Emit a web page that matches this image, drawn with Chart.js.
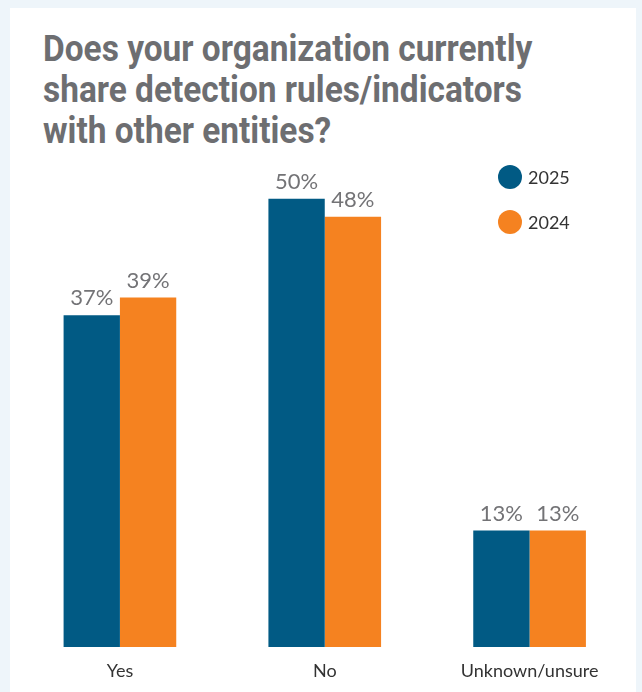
<!DOCTYPE html>
<html><head><meta charset="utf-8">
<script src="https://cdn.jsdelivr.net/npm/chart.js@4"></script>
<style>
html,body{margin:0;padding:0;width:642px;height:692px;overflow:hidden;background:#eef5fa;}
#card{position:absolute;left:10px;top:8px;width:626px;height:700px;background:#fff;}
#title{position:absolute;left:43px;top:28px;margin:0;font-family:Roboto,"DejaVu Sans",sans-serif;font-weight:bold;font-size:37px;line-height:41px;color:#6d6e71;white-space:nowrap;transform-origin:0 0;}
#wrap{position:absolute;left:0;top:0;width:642px;height:692px;}
</style></head><body>
<div id="card"></div>
<div id="title"><span>Does your organization currently</span><br><span id="l2">share detection rules/indicators</span><br><span>with other entities?</span></div>
<div id="wrap"><canvas id="c" width="642" height="692"></canvas></div>
<script>
const categories = ["Yes", "No", "Unknown/unsure"];
const seriesNames = ["2025", "2024"];
const values2025 = [37, 50, 13];
const values2024 = [39, 48, 13];
const colors = ["#015a84", "#f58220"];

// condense title to the reference width
const l2 = document.getElementById('l2');
const w = l2.getBoundingClientRect().width;
document.getElementById('title').style.transform = 'scaleX(' + (479 / w) + ')';

const labelPlugin = {
  id: 'labels',
  afterDatasetsDraw(chart) {
    const ctx = chart.ctx;
    ctx.save();
    ctx.font = '22px Lato, "Open Sans", sans-serif';
    ctx.fillStyle = '#737376';
    ctx.textAlign = 'center';
    ctx.textBaseline = 'bottom';
    chart.data.datasets.forEach((ds, i) => {
      chart.getDatasetMeta(i).data.forEach((bar, j) => {
        ctx.fillText(ds.data[j] + '%', bar.x, bar.y - 6);
      });
    });
    // legend
    ctx.font = '18px Lato, "Open Sans", sans-serif';
    ctx.textAlign = 'left';
    ctx.textBaseline = 'middle';
    chart.data.datasets.forEach((ds, i) => {
      const y = 177 + i * 45;
      ctx.fillStyle = ds.backgroundColor;
      ctx.beginPath(); ctx.arc(510, y, 12, 0, Math.PI * 2); ctx.fill();
      ctx.fillStyle = '#333';
      ctx.fillText(ds.label, 528, y + 1);
    });
    ctx.restore();
  }
};

new Chart(document.getElementById('c'), {
  type: 'bar',
  data: {
    labels: categories,
    datasets: [
      { label: seriesNames[0], data: values2025, backgroundColor: colors[0] },
      { label: seriesNames[1], data: values2024, backgroundColor: colors[1] }
    ]
  },
  options: {
    responsive: false,
    animation: false,
    layout: { padding: { left: 17.5, right: 10, top: 154, bottom: 0 } },
    plugins: { legend: { display: false }, tooltip: { enabled: false } },
    datasets: { bar: { categoryPercentage: 0.55, barPercentage: 1.0 } },
    scales: {
      y: { display: false, min: 0, max: 55 },
      x: {
        grid: { display: false },
        border: { display: false },
        ticks: { color: '#333', font: { family: 'Lato, "Open Sans", sans-serif', size: 18 }, padding: 5 },
        afterFit: s => { s.height = 45; }
      }
    }
  },
  plugins: [labelPlugin]
});
</script>
</body></html>
